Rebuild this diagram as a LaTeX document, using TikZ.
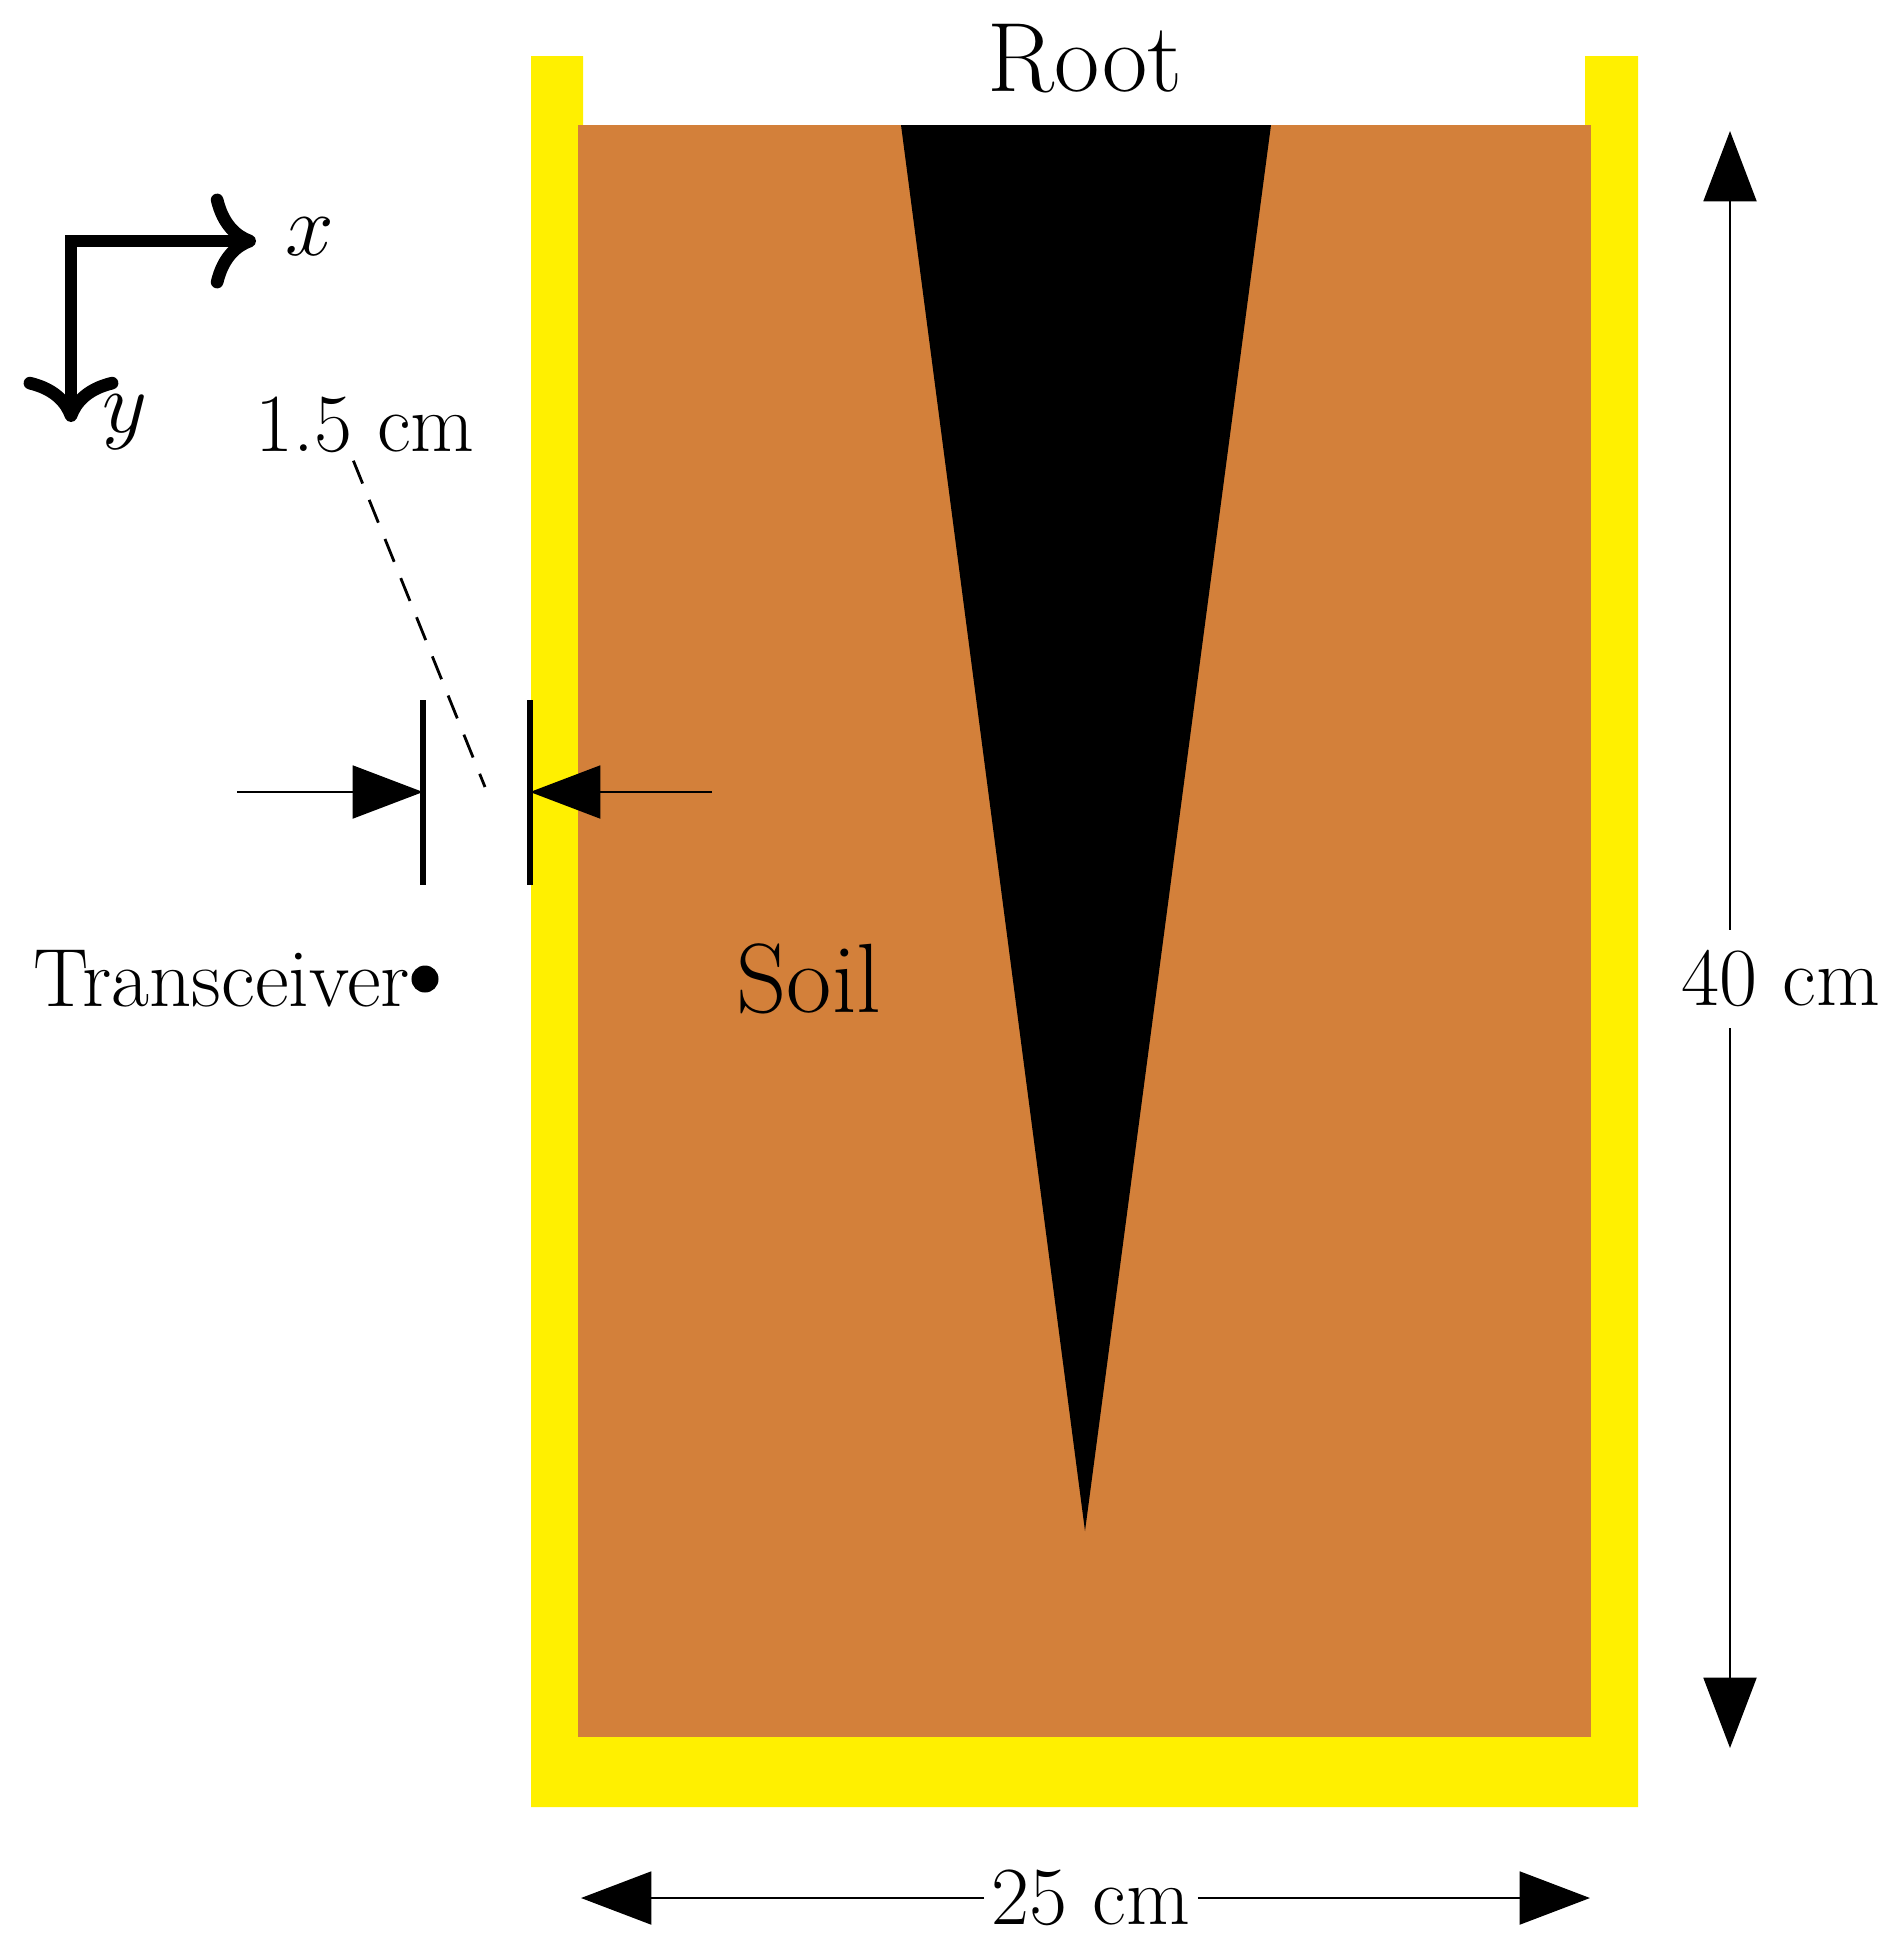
\documentclass[tikz,border=0pt]{standalone}
\usetikzlibrary{arrows.meta}
\definecolor{soilbrown}{RGB}{211,128,58}
\definecolor{wallyellow}{RGB}{255,240,0}
\begin{document}
\begin{tikzpicture}
[x=0.01cm,y=-0.01cm,%
  every node/.style={font=\fontsize{23.5}{28}\selectfont,inner sep=2pt},%
  bigtext/.style={font=\fontsize{28}{33}\selectfont},%
  axisline/.style={line width=3.6pt,{To[scale=1.35]}-{To[scale=1.35]}},%
  dimline/.style={line width=0.8pt,{Triangle[length=20pt,width=15pt]}-{Triangle[length=20pt,width=15pt]}},%
  halfarrow/.style={line width=0.8pt,-{Triangle[length=20pt,width=15pt]}},%
  tickline/.style={line width=1.5pt},%
  guideline/.style={line width=0.8pt,dash pattern=on 7pt off 5pt},%
  dotnode/.style={circle,fill,inner sep=0pt,minimum size=0.27cm}]
\useasboundingbox (0,0) rectangle (1891,1960);
\fill[wallyellow] (531,56) -- (583,56) -- (583,125) -- (1585,125) -- (1585,56)
  -- (1638,56) -- (1638,1807) -- (531,1807) -- cycle;
\fill[soilbrown] (578,125) rectangle (1591,1737);
\fill[black] (901,125) -- (1271,125) -- (1085,1531) -- cycle;
\node[bigtext] (root) at (1085,59) {Root};
\node[bigtext] (soil) at (809,979) {Soil};
\coordinate (xend) at (256,241);
\coordinate (yend) at (71,422);
\draw[axisline] (xend) -| (yend);
\node (xlab) at (310,237) {$x$};
\node (ylab) at (125,422) {$y$};
\coordinate (outer) at (423,792);
\coordinate (inner) at (530,792);
\coordinate (farl) at (237,792);
\coordinate (farr) at (712,792);
\draw[tickline] (423,700) -- (423,885);
\draw[tickline] (530,700) -- (530,885);
\draw[halfarrow] (farl) -- (outer);
\draw[halfarrow] (farr) -- (inner);
\node (gaplab) at (365,425) {1.5 cm};
\coordinate (gapmid) at (485,787);
\draw[guideline] (gaplab.-108) -- (gapmid);
\node[dotnode] (trx) at (425,979) {};
\node[anchor=east,inner sep=0pt] (trxlab) at (trx.west) {Transceiver};
\coordinate (htop) at (1730,131);
\coordinate (hbot) at (1730,1748);
\draw[dimline] (htop) -- (hbot);
\node[fill=white,inner sep=6pt] (hlab) at (1781,979) {40 cm};
\coordinate (wleft) at (581,1898);
\coordinate (wright) at (1590,1898);
\node (wlab) at (1091,1898) {25 cm};
\draw[halfarrow] (wlab) -- (wleft);
\draw[halfarrow] (wlab) -- (wright);
\end{tikzpicture}
\end{document}
